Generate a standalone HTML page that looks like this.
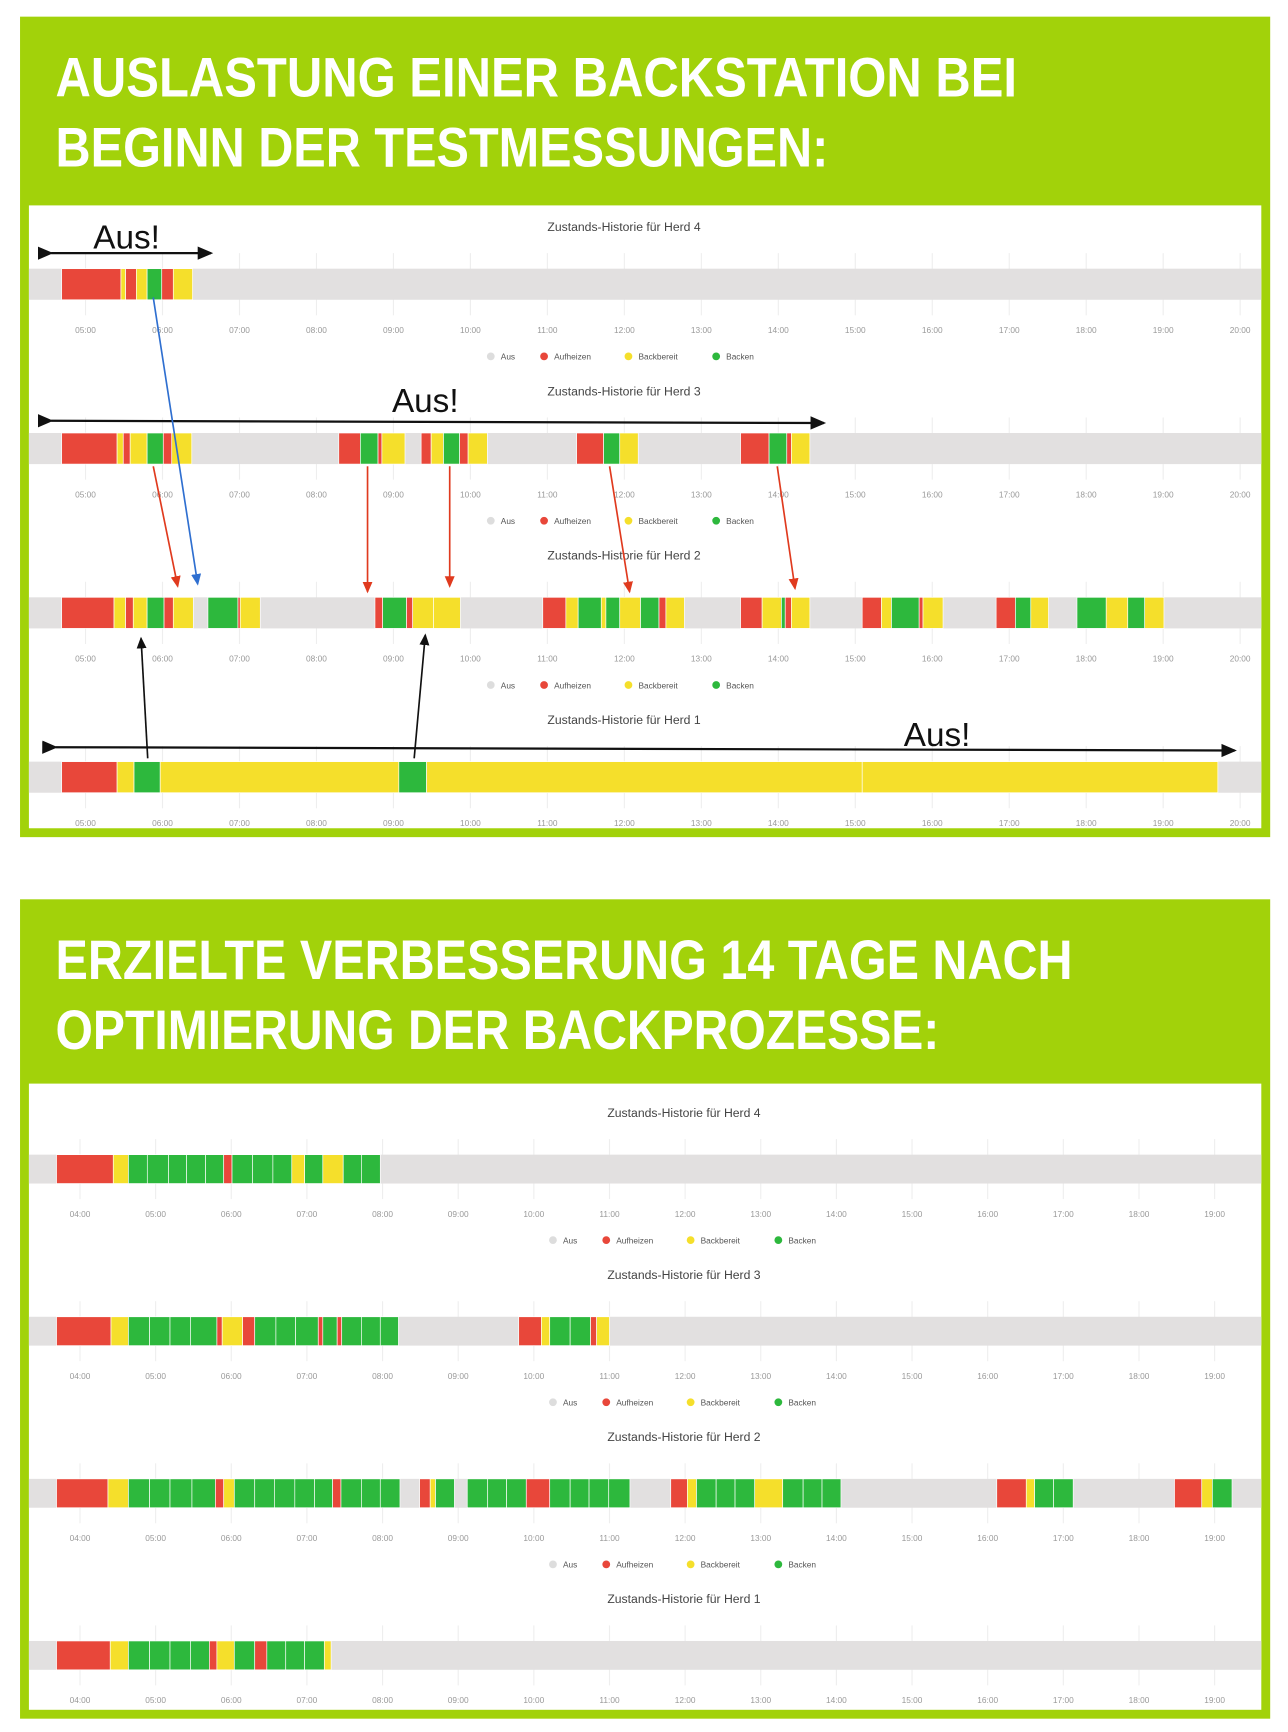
<!DOCTYPE html>
<html><head><meta charset="utf-8"><style>
html,body{margin:0;padding:0;background:#fff;}
svg{display:block;}
text{font-family:"Liberation Sans",sans-serif;}
</style></head><body>
<svg id="page" width="1288" height="1732" viewBox="0 0 1160 1560" xmlns="http://www.w3.org/2000/svg">
<rect x="0" y="0" width="1160" height="1560" fill="#fff"/>
<!-- top section -->
<rect x="18" y="15" width="1126" height="739" fill="#a2d20a"/>
<rect x="26" y="185" width="1110" height="561" fill="#fff"/>
<text x="50" y="87" fill="#fff" font-weight="bold" font-size="50" textLength="866" lengthAdjust="spacingAndGlyphs">AUSLASTUNG EINER BACKSTATION BEI</text>
<text x="50" y="150" fill="#fff" font-weight="bold" font-size="50" textLength="696" lengthAdjust="spacingAndGlyphs">BEGINN DER TESTMESSUNGEN:</text>
<!-- bottom section -->
<rect x="18" y="810" width="1126" height="738" fill="#a2d20a"/>
<rect x="26" y="976" width="1110" height="564" fill="#fff"/>
<text x="50" y="882" fill="#fff" font-weight="bold" font-size="50" textLength="916" lengthAdjust="spacingAndGlyphs">ERZIELTE VERBESSERUNG 14 TAGE NACH</text>
<text x="50" y="945" fill="#fff" font-weight="bold" font-size="50" textLength="796" lengthAdjust="spacingAndGlyphs">OPTIMIERUNG DER BACKPROZESSE:</text>
<g id="charts"></g>
<g id="annot">
<defs>
<marker id="ab" markerWidth="8" markerHeight="8" refX="6" refY="4" orient="auto"><path d="M0,1 L7,4 L0,7z" fill="#111"/></marker>
<marker id="ar" markerWidth="8" markerHeight="8" refX="6" refY="4" orient="auto"><path d="M0,1 L7,4 L0,7z" fill="#e03a1e"/></marker>
<marker id="abl" markerWidth="8" markerHeight="8" refX="6" refY="4" orient="auto"><path d="M0,1 L7,4 L0,7z" fill="#2f6fd0"/></marker>
</defs>
<text x="84" y="224" font-size="30" fill="#111">Aus!</text>
<line x1="46" y1="228" x2="190" y2="228" stroke="#111" stroke-width="2" marker-start="url(#ab)" marker-end="url(#ab)"/>
<text x="353" y="371" font-size="30" fill="#111">Aus!</text>
<line x1="46" y1="379" x2="742" y2="381" stroke="#111" stroke-width="2" marker-start="url(#ab)" marker-end="url(#ab)"/>
<text x="814" y="672" font-size="30" fill="#111">Aus!</text>
<line x1="50" y1="673" x2="1112" y2="676" stroke="#111" stroke-width="2" marker-start="url(#ab)" marker-end="url(#ab)"/>
<line x1="138" y1="268" x2="178" y2="526" stroke="#2f6fd0" stroke-width="1.5" marker-end="url(#abl)"/>
<line x1="138" y1="420" x2="160" y2="528" stroke="#e03a1e" stroke-width="1.5" marker-end="url(#ar)"/>
<line x1="331" y1="420" x2="331" y2="533" stroke="#e03a1e" stroke-width="1.5" marker-end="url(#ar)"/>
<line x1="405" y1="420" x2="405" y2="528" stroke="#e03a1e" stroke-width="1.5" marker-end="url(#ar)"/>
<line x1="549" y1="420" x2="567" y2="533" stroke="#e03a1e" stroke-width="1.5" marker-end="url(#ar)"/>
<line x1="700" y1="420" x2="716" y2="530" stroke="#e03a1e" stroke-width="1.5" marker-end="url(#ar)"/>
<line x1="133" y1="683" x2="127" y2="575" stroke="#111" stroke-width="1.5" marker-end="url(#ab)"/>
<line x1="373" y1="683" x2="383" y2="572" stroke="#111" stroke-width="1.5" marker-end="url(#ab)"/>
</g>
</svg>
<script>
// state codes: 1 Aufheizen, 2 Backbereit, 3 Backen
const stateColors = ["#dddddd","#e8473a","#f5df2b","#2db83d"];
const legendLabels = ["Aus","Aufheizen","Backbereit","Backen"];
const topTicks = ["05:00","06:00","07:00","08:00","09:00","10:00","11:00","12:00","13:00","14:00","15:00","16:00","17:00","18:00","19:00","20:00"];
const botTicks = ["04:00","05:00","06:00","07:00","08:00","09:00","10:00","11:00","12:00","13:00","14:00","15:00","16:00","17:00","18:00","19:00"];
const before4 = [[4.69,5.46,1],[5.46,5.52,2],[5.52,5.66,1],[5.66,5.80,2],[5.80,5.99,3],[5.99,6.14,1],[6.14,6.39,2]];
const before3 = [[4.69,5.41,1],[5.41,5.49,2],[5.49,5.58,1],[5.58,5.80,2],[5.80,6.01,3],[6.01,6.12,1],[6.12,6.38,2],[8.29,8.57,1],[8.57,8.80,3],[8.80,8.85,1],[8.85,9.15,2],[9.36,9.49,1],[9.49,9.65,2],[9.65,9.86,3],[9.86,9.97,1],[9.97,10.22,2],[11.38,11.73,1],[11.73,11.94,3],[11.94,12.18,2],[13.51,13.88,1],[13.88,14.11,3],[14.11,14.17,1],[14.17,14.41,2]];
const before2 = [[4.69,5.37,1],[5.37,5.52,2],[5.52,5.62,1],[5.62,5.80,2],[5.80,6.02,3],[6.02,6.14,1],[6.14,6.40,2],[6.59,6.98,3],[6.98,7.01,1],[7.01,7.27,2],[8.76,8.86,1],[8.86,9.17,3],[9.17,9.25,1],[9.25,9.52,2],[9.52,9.87,2],[10.94,11.24,1],[11.24,11.40,2],[11.40,11.70,3],[11.70,11.76,2],[11.76,11.94,3],[11.94,12.21,2],[12.21,12.45,3],[12.45,12.54,1],[12.54,12.78,2],[13.51,13.79,1],[13.79,14.04,2],[14.04,14.09,3],[14.09,14.17,1],[14.17,14.41,2],[15.09,15.34,1],[15.34,15.47,2],[15.47,15.83,3],[15.83,15.88,1],[15.88,16.14,2],[16.83,17.08,1],[17.08,17.28,3],[17.28,17.51,2],[17.88,18.26,3],[18.26,18.54,2],[18.54,18.76,3],[18.76,19.01,2]];
const before1 = [[4.69,5.41,1],[5.41,5.63,2],[5.63,5.97,3],[5.97,9.07,2],[9.07,9.43,3],[9.43,15.09,2],[15.09,19.71,2]];
const after4 = [[3.69,4.44,1],[4.44,4.64,2],[4.64,4.89,3],[4.89,5.17,3],[5.17,5.41,3],[5.41,5.66,3],[5.66,5.90,3],[5.90,6.01,1],[6.01,6.28,3],[6.28,6.55,3],[6.55,6.80,3],[6.80,6.97,2],[6.97,7.21,3],[7.21,7.48,2],[7.48,7.72,3],[7.72,7.97,3]];
const after3 = [[3.69,4.41,1],[4.41,4.64,2],[4.64,4.92,3],[4.92,5.19,3],[5.19,5.46,3],[5.46,5.81,3],[5.81,5.88,1],[5.88,6.15,2],[6.15,6.31,1],[6.31,6.59,3],[6.59,6.85,3],[6.85,7.15,3],[7.15,7.21,1],[7.21,7.40,3],[7.40,7.46,1],[7.46,7.72,3],[7.72,7.97,3],[7.97,8.21,3],[9.80,10.10,1],[10.10,10.21,2],[10.21,10.48,3],[10.48,10.75,3],[10.75,10.83,1],[10.83,11.00,2]];
const after2 = [[3.69,4.37,1],[4.37,4.64,2],[4.64,4.92,3],[4.92,5.19,3],[5.19,5.48,3],[5.48,5.79,3],[5.79,5.90,1],[5.90,6.04,2],[6.04,6.31,3],[6.31,6.57,3],[6.57,6.84,3],[6.84,7.10,3],[7.10,7.34,3],[7.34,7.45,1],[7.45,7.72,3],[7.72,7.97,3],[7.97,8.23,3],[8.49,8.63,1],[8.63,8.70,2],[8.70,8.95,3],[9.12,9.39,3],[9.39,9.64,3],[9.64,9.90,3],[9.90,10.21,1],[10.21,10.48,3],[10.48,10.73,3],[10.73,10.99,3],[10.99,11.27,3],[11.81,12.03,1],[12.03,12.15,2],[12.15,12.41,3],[12.41,12.66,3],[12.66,12.92,3],[12.92,13.29,2],[13.29,13.56,3],[13.56,13.81,3],[13.81,14.06,3],[16.12,16.51,1],[16.51,16.62,2],[16.62,16.87,3],[16.87,17.13,3],[18.47,18.83,1],[18.83,18.97,2],[18.97,19.23,3]];
const after1 = [[3.69,4.40,1],[4.40,4.64,2],[4.64,4.92,3],[4.92,5.19,3],[5.19,5.46,3],[5.46,5.71,3],[5.71,5.81,1],[5.81,6.04,2],[6.04,6.31,3],[6.31,6.47,1],[6.47,6.72,3],[6.72,6.97,3],[6.97,7.23,3],[7.23,7.32,2]];

const NS="http://www.w3.org/2000/svg";
const root=document.getElementById('charts');
function mk(tag,attrs,parent){const e=document.createElementNS(NS,tag);for(const k in attrs)e.setAttribute(k,attrs[k]);parent.appendChild(e);return e;}
function xTop(h){return 77+(h-5)*69.33;}
function xBot(h){return 72+(h-4)*68.13;}

function drawChart(name,segs,title,titleY,bandY,bandH,xf,ticks,startHour,titleX,legendX,showLegend){
  const g=mk('g',{},root);
  
  
  const t=mk('text',{x:titleX,y:titleY,'font-size':11,fill:'#444','text-anchor':'middle'},g);
  
  
  t.textContent=title;
  ticks.forEach((lab,i)=>{
    const x=xf(startHour+i);
    const gl=mk('line',{x1:x,y1:bandY-14,x2:x,y2:bandY+bandH+14,stroke:'#eeeeee','stroke-width':1},g);
    
    
  });
  const band=mk('rect',{x:26,y:bandY,width:1110,height:bandH,fill:'#e2e0e0'},g);
  
  
  segs.forEach(s=>{
    const x1=xf(s[0]),x2=xf(s[1]);
    const r=mk('rect',{x:x1,y:bandY,width:Math.max(0.5,x2-x1),height:bandH,fill:stateColors[s[2]],stroke:'#fff','stroke-width':0.6},g);
    
    
  });
  ticks.forEach((lab,i)=>{
    const tx=mk('text',{x:xf(startHour+i),y:bandY+bandH+30,'font-size':7.5,fill:'#999','text-anchor':'middle'},g);
    
    
    tx.textContent=lab;
  });
  if(showLegend){
    const ly=bandY+bandH+51;
    const offs=[0,48,124,203];
    legendLabels.forEach((lab,i)=>{
      const c=mk('circle',{cx:legendX+offs[i],cy:ly,r:3.5,fill:stateColors[i]},g);
      
      
      const lt=mk('text',{x:legendX+offs[i]+9,y:ly+3,'font-size':7.5,fill:'#555'},g);
      
      
      lt.textContent=lab;
    });
  }
}
drawChart('before-herd4',before4,'Zustands-Historie für Herd 4',208,242,28,xTop,topTicks,5,562,442,true);
drawChart('before-herd3',before3,'Zustands-Historie für Herd 3',356,390,28,xTop,topTicks,5,562,442,true);
drawChart('before-herd2',before2,'Zustands-Historie für Herd 2',504,538,28,xTop,topTicks,5,562,442,true);
drawChart('before-herd1',before1,'Zustands-Historie für Herd 1',652,686,28,xTop,topTicks,5,562,442,false);
drawChart('after-herd4',after4,'Zustands-Historie für Herd 4',1006,1040,26,xBot,botTicks,4,616,498,true);
drawChart('after-herd3',after3,'Zustands-Historie für Herd 3',1152,1186,26,xBot,botTicks,4,616,498,true);
drawChart('after-herd2',after2,'Zustands-Historie für Herd 2',1298,1332,26,xBot,botTicks,4,616,498,true);
drawChart('after-herd1',after1,'Zustands-Historie für Herd 1',1444,1478,26,xBot,botTicks,4,616,498,false);
</script>
</body></html>
